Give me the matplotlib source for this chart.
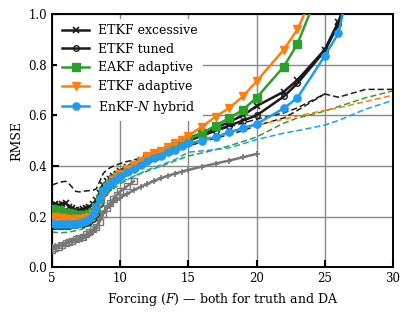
import numpy as np
import matplotlib

matplotlib.use("Agg")
import matplotlib.pyplot as plt  # noqa: E402

nan = np.nan

# Forcing values (dense below 10, coarser above)
F = [5, 5.25, 5.5, 5.75, 6, 6.25, 6.5, 6.75, 7, 7.25, 7.5, 7.75, 8, 8.25, 8.5, 8.75, 9, 9.25, 9.5, 9.75,
     10, 10.5, 11, 11.5, 12, 12.5, 13, 13.5, 14, 14.5,
     15, 16, 17, 18, 19, 20,
     22, 23, 25, 26, 28, 30]

etkf_exc = [0.245, 0.25, 0.245, 0.25, 0.255, 0.24, 0.235, 0.225, 0.225, 0.23, 0.235, 0.24, 0.25, 0.265, 0.295, 0.325, 0.34, 0.35, 0.36, 0.37,
            0.38, 0.395, 0.41, 0.425, 0.44, 0.45, 0.46, 0.475, 0.49, 0.50,
            0.51, 0.53, 0.55, 0.575, 0.60, 0.637,
            0.694, 0.74, 0.86, 0.97, 1.25, nan]
etkf_tuned = [0.165, 0.165, 0.163, 0.163, 0.165, 0.165, 0.167, 0.168, 0.17, 0.172, 0.175, 0.18, 0.19, 0.21, 0.25, 0.29, 0.315, 0.33, 0.345, 0.355,
              0.365, 0.38, 0.40, 0.415, 0.43, 0.44, 0.45, 0.465, 0.475, 0.49,
              0.50, 0.52, 0.54, 0.56, 0.58, 0.60,
              0.675, 0.727, 0.855, 0.96, 1.25, nan]
eakf_adapt = [0.23, 0.225, 0.225, 0.22, 0.215, 0.213, 0.21, 0.208, 0.205, 0.205, 0.207, 0.21, 0.22, 0.24, 0.27, 0.30, 0.32, 0.335, 0.35, 0.36,
              0.37, 0.385, 0.40, 0.415, 0.43, 0.44, 0.45, 0.465, 0.48, 0.49,
              0.505, 0.53, 0.56, 0.59, 0.622, 0.67,
              0.793, 0.883, 1.15, nan, nan, nan]
etkf_adapt = [0.20, 0.198, 0.195, 0.193, 0.19, 0.19, 0.19, 0.19, 0.19, 0.192, 0.195, 0.20, 0.21, 0.23, 0.26, 0.29, 0.315, 0.33, 0.345, 0.355,
              0.37, 0.39, 0.405, 0.42, 0.44, 0.45, 0.46, 0.475, 0.49, 0.505,
              0.52, 0.556, 0.595, 0.63, 0.675, 0.735,
              0.86, 0.94, 1.18, nan, nan, nan]
enkfn_hyb = [0.175, 0.172, 0.17, 0.17, 0.17, 0.17, 0.172, 0.173, 0.175, 0.178, 0.182, 0.19, 0.21, 0.24, 0.27, 0.30, 0.32, 0.33, 0.34, 0.35,
             0.36, 0.375, 0.39, 0.405, 0.42, 0.43, 0.44, 0.455, 0.465, 0.478,
             0.49, 0.50, 0.515, 0.533, 0.55, 0.566,
             0.628, 0.67, 0.835, 0.925, 1.4, nan]

# dashed companions
exc_dash = [0.325, 0.33, 0.335, 0.338, 0.34, 0.33, 0.315, 0.30, 0.298, 0.30, 0.302, 0.303, 0.305, 0.31, 0.34, 0.37, 0.385, 0.393, 0.40, 0.405,
            0.41, 0.418, 0.424, 0.432, 0.44, 0.45, 0.46, 0.47, 0.48, 0.49,
            0.50, 0.52, 0.54, 0.555, 0.57, 0.585,
            0.61, 0.63, 0.685, 0.672, 0.703, 0.703]
tuned_dash = [0.158, 0.158, 0.157, 0.157, 0.158, 0.158, 0.16, 0.161, 0.162, 0.165, 0.168, 0.173, 0.183, 0.20, 0.24, 0.28, 0.305, 0.32, 0.335, 0.345,
              0.355, 0.37, 0.385, 0.40, 0.415, 0.425, 0.435, 0.45, 0.46, 0.47,
              0.48, 0.495, 0.51, 0.525, 0.54, 0.56,
              0.59, 0.62, 0.685, nan, nan, nan]
eakf_dash = [0.14, 0.138, 0.137, 0.137, 0.138, 0.14, 0.142, 0.145, 0.148, 0.152, 0.158, 0.165, 0.178, 0.20, 0.23, 0.26, 0.285, 0.30, 0.31, 0.32,
             0.33, 0.345, 0.36, 0.37, 0.38, 0.39, 0.40, 0.41, 0.42, 0.43,
             0.44, 0.452, 0.465, 0.48, 0.497, 0.515,
             0.57, 0.59, 0.617, 0.635, 0.67, 0.697]
etkf_dash = [0.185, 0.183, 0.182, 0.18, 0.18, 0.18, 0.181, 0.182, 0.183, 0.185, 0.188, 0.193, 0.20, 0.22, 0.25, 0.28, 0.30, 0.315, 0.325, 0.335,
             0.345, 0.362, 0.38, 0.395, 0.41, 0.425, 0.44, 0.452, 0.465, 0.475,
             0.485, 0.505, 0.52, 0.535, 0.55, 0.562,
             0.585, 0.598, 0.62, 0.63, 0.655, 0.68]
enkfn_dash = [0.16, 0.16, 0.16, 0.16, 0.16, 0.16, 0.161, 0.162, 0.165, 0.168, 0.172, 0.18, 0.19, 0.21, 0.24, 0.27, 0.295, 0.31, 0.32, 0.33,
              0.335, 0.348, 0.36, 0.372, 0.385, 0.395, 0.405, 0.415, 0.425, 0.44,
              0.455, 0.46, 0.465, 0.472, 0.488, 0.505,
              0.53, 0.54, 0.562, 0.58, 0.625, 0.66]

# grey references
grey_sq = [0.07, 0.075, 0.082, 0.088, 0.095, 0.10, 0.105, 0.11, 0.115, 0.12, 0.13, 0.14, 0.15, 0.16, 0.18, 0.21, 0.235, 0.255, 0.27, 0.285,
           0.30, 0.32, 0.34, nan, nan, nan, nan, nan, nan, nan,
           nan, nan, nan, nan, nan, nan,
           nan, nan, nan, nan, nan, nan]
grey_plus = [0.08, 0.083, 0.087, 0.09, 0.095, 0.10, 0.103, 0.107, 0.11, 0.115, 0.12, 0.13, 0.14, 0.155, 0.19, 0.215, 0.235, 0.248, 0.258, 0.268,
             0.275, 0.29, 0.305, 0.318, 0.33, 0.342, 0.352, 0.362, 0.37, 0.378,
             0.385, 0.398, 0.41, 0.422, 0.435, 0.448,
             nan, nan, nan, nan, nan, nan]

labels = ["ETKF excessive", "ETKF tuned", "EAKF adaptive", "ETKF adaptive", "EnKF-$N$ hybrid"]

C_K = "#1a1a1a"
C_G = "#2ca02c"
C_O = "#ff7f0e"
C_B = "#1e9cf0"
C_GR = "#777777"

plt.rcParams["font.family"] = "serif"
plt.rcParams["font.serif"] = ["DejaVu Serif"]
plt.rcParams["mathtext.fontset"] = "dejavuserif"

fig = plt.figure(figsize=(4.11, 3.16), dpi=100)
ax = fig.add_axes([0.1265, 0.154, 0.8295, 0.801])

dash = dict(ls="--", lw=1.1, dashes=(4, 2))
ax.plot(F, exc_dash, color=C_K, zorder=2, **dash)
ax.plot(F, tuned_dash, color=C_K, zorder=2, **dash)
ax.plot(F, eakf_dash, color=C_G, zorder=2, **dash)
ax.plot(F, etkf_dash, color=C_O, zorder=2, **dash)
ax.plot(F, enkfn_dash, color=C_B, zorder=2, **dash)

ax.plot(F, grey_plus, color=C_GR, lw=1.8, marker="+", ms=5, mew=1.2, zorder=3)
ax.plot(F, grey_sq, color=C_GR, lw=1.8, marker="s", ms=4.5, mfc="none", mew=1.0, zorder=3)

ax.plot(F, etkf_exc, color=C_K, lw=1.8, marker="x", ms=4.5, mew=1.2, label=labels[0], zorder=4)
ax.plot(F, etkf_tuned, color=C_K, lw=1.8, marker="o", ms=4, mfc="none", mew=1.0, label=labels[1], zorder=4)
ax.plot(F, eakf_adapt, color=C_G, lw=1.8, marker="s", ms=5.5, label=labels[2], zorder=4)
ax.plot(F, etkf_adapt, color=C_O, lw=1.8, marker="v", ms=6, label=labels[3], zorder=4)
ax.plot(F, enkfn_hyb, color=C_B, lw=1.8, marker="o", ms=5.2, label=labels[4], zorder=4)

ax.set_xlim(5, 30)
ax.set_ylim(0, 1)
ax.set_xticks([5, 10, 15, 20, 25, 30])
ax.set_yticks([0.0, 0.2, 0.4, 0.6, 0.8, 1.0])
ax.grid(True, color="#888888", lw=1.0)
ax.set_axisbelow(True)
ax.tick_params(direction="in", length=5, width=1.5, labelsize=8.5)
for s in ax.spines.values():
    s.set_linewidth(1.4)

ax.set_xlabel("Forcing ($F$) — both for truth and DA", fontsize=9)
ax.set_ylabel("RMSE", fontsize=9)

leg = ax.legend(loc="upper left", fontsize=9, frameon=True, fancybox=False,
                framealpha=1, edgecolor="none", handlelength=2.2,
                handletextpad=0.7, labelspacing=0.45, borderaxespad=0.4)

fig.savefig("out.png", dpi=100)
